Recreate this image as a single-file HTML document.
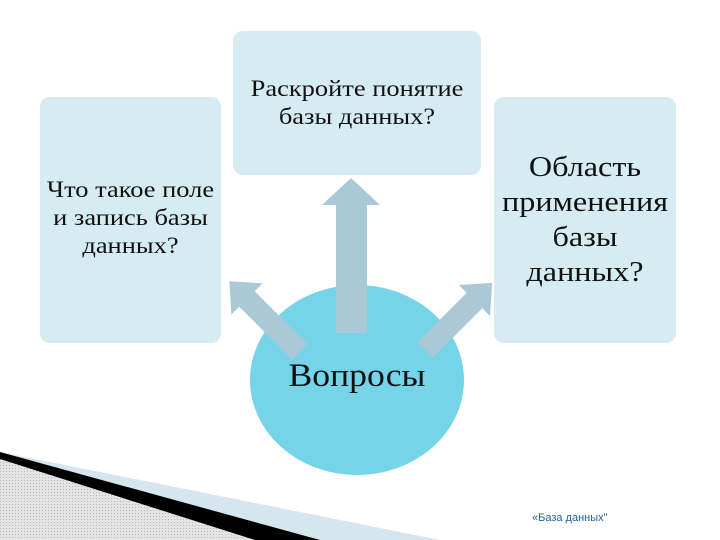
<!DOCTYPE html>
<html><head><meta charset="utf-8"><style>
html,body{margin:0;padding:0;background:#fff;}
body{width:720px;height:540px;position:relative;overflow:hidden;font-family:"Liberation Serif",serif;}
.box{position:absolute;background:#d6ecf3;border-radius:10px;}
.t{position:absolute;left:0;right:0;text-align:center;color:#111;transform:scaleX(1.15);transform-origin:center;white-space:nowrap;}
</style></head><body>
<svg width="720" height="540" style="position:absolute;left:0;top:0">
<defs><pattern id="h" width="3" height="3" patternUnits="userSpaceOnUse"><rect width="3" height="3" fill="#e4e4e4"/><rect width="1" height="1" fill="#b8b8b8"/></pattern></defs>
<polygon points="0,452 440,540 0,540" fill="#d5e6ee"/>
<polygon points="0,452 320,540 0,540" fill="#000"/>
<polygon points="0,459 255,540 0,540" fill="url(#h)"/>
<ellipse cx="357" cy="380" rx="107" ry="95" fill="#76d4e8"/>
<polygon points="336,333 367,333 367,205 380,205 351,178 322,205 336,205" fill="#a9c9d7"/>
<g transform="translate(300,352) rotate(-135)"><polygon points="0,-11 75,-11 75,-22 100,0 75,22 75,11 0,11" fill="#a9c9d7"/></g>
<g transform="translate(425,350) rotate(-45)"><polygon points="0,-11 70,-11 70,-22 95,0 70,22 70,11 0,11" fill="#a9c9d7"/></g>
</svg>
<div class="box" style="left:40px;top:97px;width:181px;height:246px;">
<div class="t" style="top:79px;font-size:23px;line-height:28px;">Что такое поле<br>и запись базы<br>данных?</div></div>
<div class="box" style="left:233px;top:31px;width:248px;height:144px;">
<div class="t" style="top:44px;font-size:23px;line-height:28px;">Раскройте понятие<br>базы данных?</div></div>
<div class="box" style="left:494px;top:97px;width:182px;height:246px;">
<div class="t" style="top:53px;font-size:28px;line-height:35px;">Область<br>применения<br>базы<br>данных?</div></div>
<div style="position:absolute;left:251px;top:358px;width:212px;text-align:center;font-size:33px;color:#111;transform:scaleX(1.08);">Вопросы</div>
<div style="position:absolute;left:532px;top:512px;font-family:'Liberation Sans Narrow','Liberation Sans',sans-serif;font-size:11px;color:#1f5fa0;">«База данных"</div>
</body></html>
